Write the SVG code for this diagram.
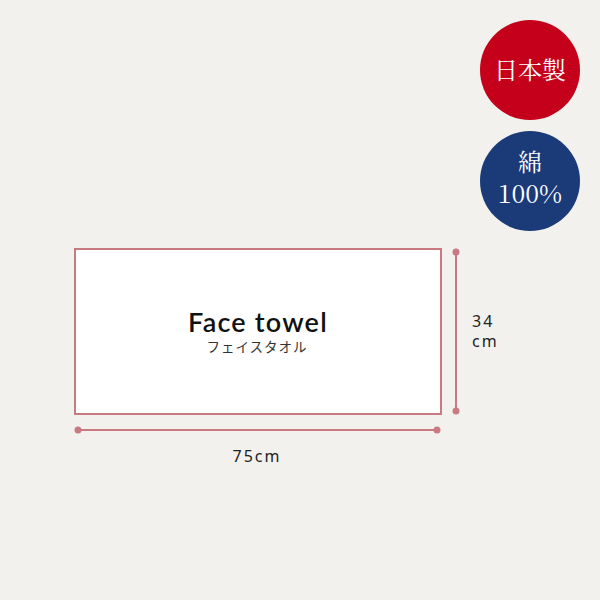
<svg xmlns="http://www.w3.org/2000/svg" width="600" height="600" viewBox="0 0 600 600">
<style>
.dim{stroke:#c97a80;stroke-width:2;fill:none}
.dot{fill:#c97a80}
.lbl{font-family:"Noto Sans","DejaVu Sans",sans-serif;font-size:16px;fill:#222;letter-spacing:2px}
.badge{font-family:"Noto Serif CJK JP","Liberation Serif","Noto Sans CJK JP",serif;fill:#fff;text-anchor:middle}
</style>
<rect width="600" height="600" fill="#f2f1ee"/>
<g id="badge-made-in-japan">
<circle cx="530" cy="70" r="50" fill="#c4001a"/>
<text class="badge" x="530" y="79" font-size="24">日本製</text>
</g>
<g id="badge-cotton">
<circle cx="530" cy="181" r="50" fill="#1b3a78"/>
<text class="badge" x="530" y="171" font-size="24">綿</text>
<text class="badge" x="530" y="203" font-size="25">100%</text>
</g>
<g id="towel">
<rect x="75" y="249" width="366" height="165" fill="#ffffff" stroke="#c97a80" stroke-width="2"/>
<text x="258" y="332" text-anchor="middle" font-family="Lato,'DejaVu Sans',sans-serif" font-weight="600" font-size="27" fill="#111" letter-spacing="1.2">Face towel</text>
<text x="257" y="352" text-anchor="middle" font-family="'Noto Sans CJK JP',sans-serif" font-size="13.5" fill="#333" letter-spacing="1">フェイスタオル</text>
</g>
<g id="connectors">
<line class="dim" x1="456" y1="252" x2="456" y2="411"/>
<circle class="dot" cx="456" cy="252" r="3.5"/>
<circle class="dot" cx="456" cy="411" r="3.5"/>
<line class="dim" x1="78" y1="430" x2="437" y2="430"/>
<circle class="dot" cx="78" cy="430" r="3.5"/>
<circle class="dot" cx="437" cy="430" r="3.5"/>
</g>
<g id="height-label">
<text class="lbl" x="472" y="327">34</text>
<text class="lbl" x="472" y="347">cm</text>
</g>
<g id="width-label">
<text class="lbl" x="257" y="462" text-anchor="middle">75cm</text>
</g>
</svg>
